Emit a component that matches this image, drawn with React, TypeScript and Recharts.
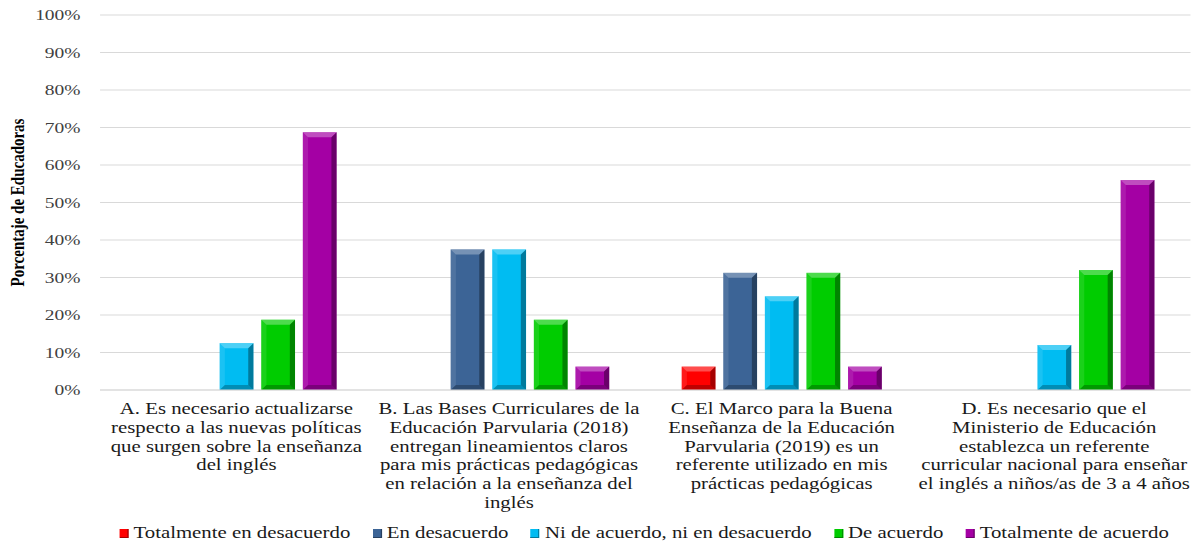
import { Bar, BarChart, CartesianGrid, Legend, XAxis, YAxis } from 'recharts'

// the source picture is stretched sideways, so the chart is drawn narrow and scaled
const W = 921
const H = 544
const STRETCH = 1197 / W
const FONT = '"Liberation Serif", "Times New Roman", serif'

const categories = [
  'A. Es necesario actualizarse\nrespecto a las nuevas políticas\nque surgen sobre la enseñanza\ndel inglés',
  'B. Las Bases Curriculares de la\nEducación Parvularia (2018)\nentregan lineamientos claros\npara mis prácticas pedagógicas\nen relación a la enseñanza del\ninglés',
  'C. El Marco para la Buena\nEnseñanza de la Educación\nParvularia (2019) es un\nreferente utilizado en mis\nprácticas pedagógicas',
  'D. Es necesario que el\nMinisterio de Educación\nestablezca un referente\ncurricular nacional para enseñar\nel inglés a niños/as de 3 a 4 años',
]

const totalmenteDesacuerdo = [0, 0, 6.25, 0]
const enDesacuerdo = [0, 37.5, 31.25, 0]
const niAcuerdoNiDesacuerdo = [12.5, 37.5, 25, 12]
const deAcuerdo = [18.75, 18.75, 31.25, 32]
const totalmenteAcuerdo = [68.75, 6.25, 6.25, 56]

const yTicks = [0, 10, 20, 30, 40, 50, 60, 70, 80, 90, 100]

const series = [
  { key: 'tdes', name: 'Totalmente en desacuerdo', color: '#ff0000', values: totalmenteDesacuerdo },
  { key: 'des', name: 'En desacuerdo', color: '#3c6496', values: enDesacuerdo },
  { key: 'ni', name: 'Ni de acuerdo, ni en desacuerdo', color: '#00bcf2', values: niAcuerdoNiDesacuerdo },
  { key: 'de', name: 'De acuerdo', color: '#00cc00', values: deAcuerdo },
  { key: 'tde', name: 'Totalmente de acuerdo', color: '#a400a4', values: totalmenteAcuerdo },
]

const data = categories.map((label, i) => {
  const row: Record<string, string | number> = { label }
  series.forEach((s) => {
    row[s.key] = s.values[i]
  })
  return row
})

// bevelled bar, like the office "bevel" effect
function BevelBar(props: any) {
  const { x, y, width, height, fill } = props
  if (!height || height <= 0) return null
  const b = Math.min(4, width / 4, height / 2)
  const bv = Math.min(5, height / 2)
  return (
    <g>
      <rect x={x} y={y} width={width} height={height} fill={fill} />
      <polygon
        points={`${x},${y} ${x + width},${y} ${x + width - b},${y + bv} ${x + b},${y + bv}`}
        fill="#fff"
        fillOpacity={0.3}
      />
      <polygon
        points={`${x},${y} ${x + b},${y + bv} ${x + b},${y + height - bv} ${x},${y + height}`}
        fill="#fff"
        fillOpacity={0.1}
      />
      <polygon
        points={`${x + width},${y} ${x + width},${y + height} ${x + width - b},${y + height - bv} ${x + width - b},${y + bv}`}
        fill="#000"
        fillOpacity={0.35}
      />
      <polygon
        points={`${x},${y + height} ${x + width},${y + height} ${x + width - b},${y + height - bv} ${x + b},${y + height - bv}`}
        fill="#000"
        fillOpacity={0.25}
      />
    </g>
  )
}

function CategoryTick({ x, y, payload }: any) {
  const lines = String(payload.value).split('\n')
  return (
    <text x={x} y={y} textAnchor="middle" fontFamily={FONT} fontSize={16} fill="#1a1a1a">
      {lines.map((line, i) => (
        <tspan key={i} x={x} dy={i === 0 ? 16 : 18.8}>
          {line}
        </tspan>
      ))}
    </text>
  )
}

function LegendContent({ payload }: any) {
  const order = series.map((s) => s.name)
  const items = [...(payload ?? [])].sort(
    (a: any, b: any) => order.indexOf(a.value) - order.indexOf(b.value)
  )
  return (
    <div
      style={{
        display: 'flex',
        justifyContent: 'center',
        alignItems: 'center',
        height: 22,
        paddingLeft: 92,
        fontFamily: FONT,
        fontSize: 16,
        color: '#1a1a1a',
        whiteSpace: 'nowrap',
      }}
    >
      {items.map((entry: any) => (
        <span key={entry.value} style={{ display: 'flex', alignItems: 'center', marginRight: 17 }}>
          <span
            style={{
              display: 'inline-block',
              width: 7,
              height: 9,
              marginRight: 4,
              background: entry.color,
              boxShadow: 'inset -1px -1px 0 rgba(0,0,0,0.35)',
            }}
          />
          {entry.value}
        </span>
      ))}
    </div>
  )
}

export default function App() {
  return (
    <div
      style={{
        position: 'absolute',
        left: 0,
        top: 0,
        width: W,
        height: H,
        background: '#fff',
        transform: `scaleX(${STRETCH})`,
        transformOrigin: '0 0',
      }}
    >
      <BarChart
        width={W}
        height={H}
        data={data}
        margin={{ top: 15, right: 5, bottom: 0, left: 0 }}
        barSize={26}
        barGap={6}
      >
        <CartesianGrid vertical={false} stroke="#d9d9d9" />
        <XAxis
          dataKey="label"
          interval={0}
          height={132}
          tickLine={false}
          axisLine={{ stroke: '#d9d9d9' }}
          tick={<CategoryTick />}
        />
        <YAxis
          width={77}
          domain={[0, 100]}
          ticks={yTicks}
          tickFormatter={(v) => `${v}%`}
          tickLine={false}
          axisLine={false}
          tickMargin={9}
          tick={{ fontSize: 15, fill: '#404040', fontFamily: FONT }}
          label={{
            value: 'Porcentaje de Educadoras',
            angle: -90,
            position: 'insideLeft',
            offset: 13,
            style: { textAnchor: 'middle', fontFamily: FONT, fontSize: 15, fontWeight: 'bold', fill: '#000' },
          }}
        />
        <Legend verticalAlign="bottom" content={<LegendContent />} wrapperStyle={{ bottom: 0 }} />
        {series.map((s) => (
          <Bar
            key={s.key}
            dataKey={s.key}
            name={s.name}
            fill={s.color}
            shape={<BevelBar />}
            isAnimationActive={false}
          />
        ))}
      </BarChart>
    </div>
  )
}
